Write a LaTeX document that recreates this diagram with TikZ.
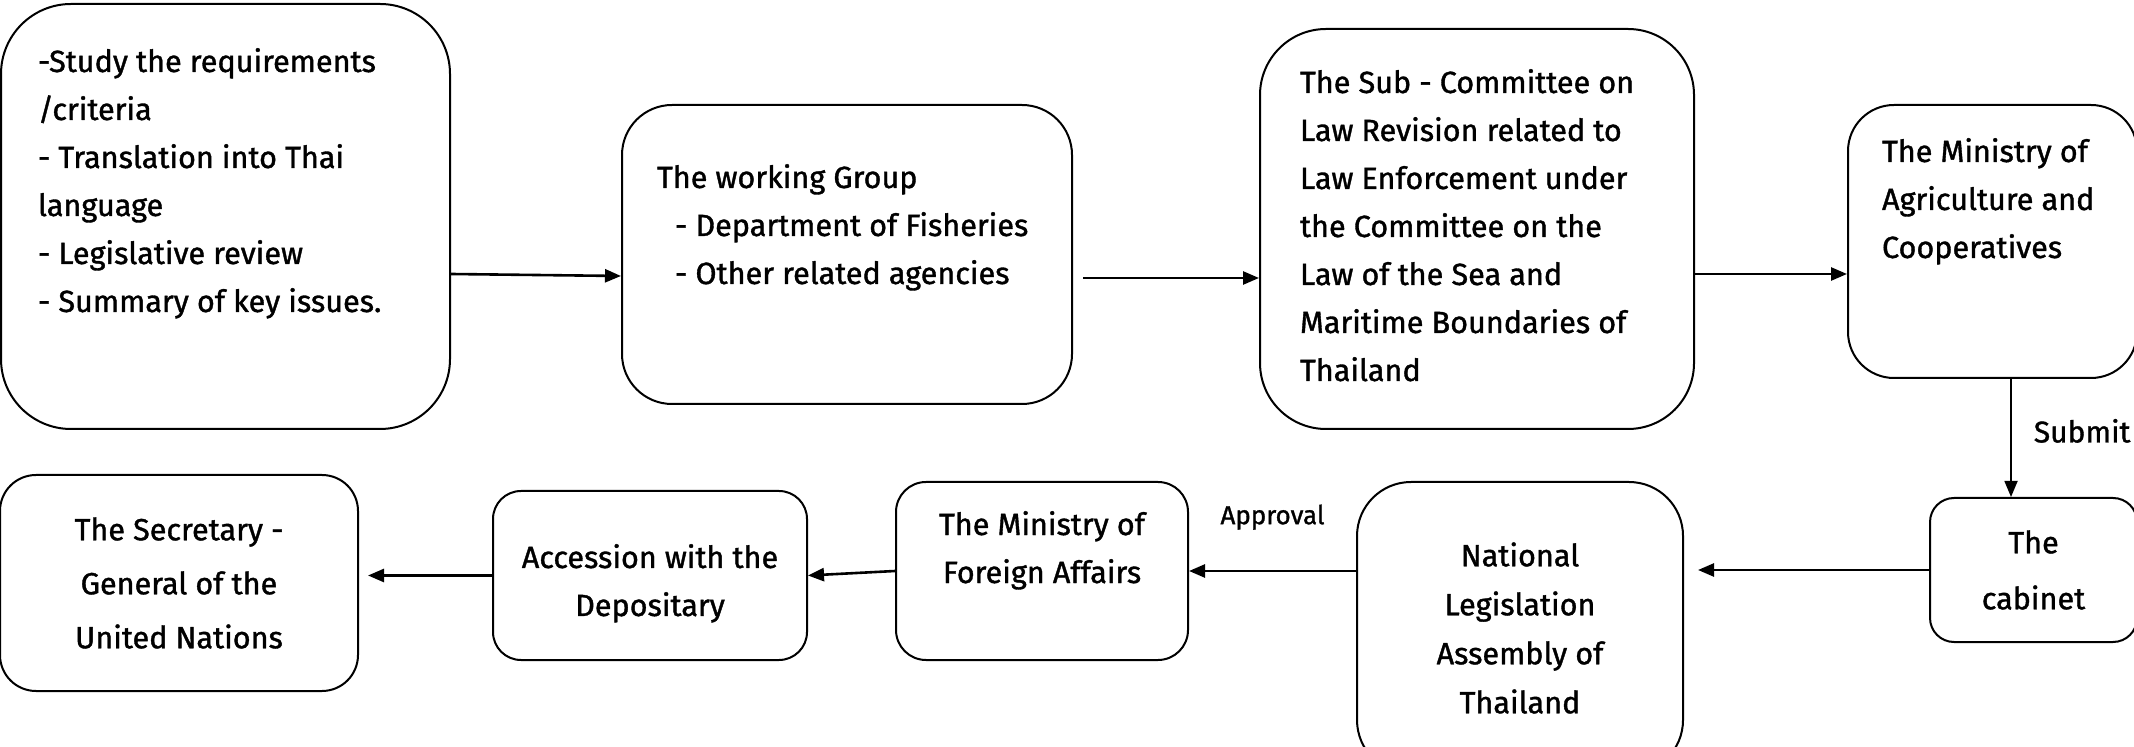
\documentclass[tikz,border=0pt]{standalone}
\usepackage{fontspec}
\setmainfont{Fira Sans}[FakeBold=1.2]
\usetikzlibrary{arrows.meta,positioning}

\tikzset{
  stage/.style={draw, line width=1pt, inner sep=0pt, font=\fontsize{15.3}{24}\selectfont},
  flow/.style={-{Triangle[length=8pt,width=6.5pt]}, line width=1.3pt},
  note/.style={inner sep=0pt, font=\fontsize{15}{24}\selectfont}
}
% width, height, first baseline, alignment, lines
\newcommand{\stagetext}[5]{\parbox[c][#2][t]{#1}{#4\rule{0pt}{#3}#5}}

\begin{document}
\begin{tikzpicture}[x=0.5pt, y=-0.5pt]
        \useasboundingbox (0,0) rectangle (2134,747);
        \clip (0,0) rectangle (2134,747);
        %% Top row
        \node[stage, rounded corners=35pt] (study) at (225.5,216.5)
            {\stagetext{224.5pt}{212.5pt}{34pt}{\raggedright\leftskip=18.5pt\relax}{-Study the requirements\\/criteria\\- Translation into Thai\\language\\- Legislative review\\- Summary of key issues.}};
        \node[stage, rounded corners=25pt] (group) at (847,254.5)
            {\stagetext{225pt}{149.5pt}{41.5pt}{\raggedright\leftskip=17.5pt\relax}{The working Group\\\hspace*{9pt}- Department of Fisheries\\\hspace*{9pt}- Other related agencies}};
        \node[stage, rounded corners=33pt] (subcom) at (1477,229)
            {\stagetext{217pt}{200pt}{32pt}{\raggedright\leftskip=20pt\relax}{The Sub - Committee on\\Law Revision related to\\Law Enforcement under\\the Committee on the\\Law of the Sea and\\Maritime Boundaries of\\Thailand}};
        \node[stage, rounded corners=23pt] (moac) at (1992.5,241.5)
            {\stagetext{144.5pt}{136.5pt}{28.5pt}{\raggedright\leftskip=17pt\relax}{The Ministry of\\Agriculture and\\Cooperatives}};
        %% Bottom row
        \node[stage, rounded corners=12pt, minimum width=103.5pt, minimum height=72pt, align=center,
              font=\fontsize{15.3}{28}\selectfont] (cabinet) at (2033.5,570) {The\\cabinet};
        \node[stage, rounded corners=27pt, minimum width=163pt, minimum height=146pt, align=center,
              font=\fontsize{15.3}{24.5}\selectfont] (nla) at (1520,628) {National\\Legislation\\Assembly of\\Thailand};
        \node[stage, rounded corners=15pt] (mfa) at (1042,571)
            {\stagetext{146pt}{89pt}{26.5pt}{\centering}{The Ministry of\\Foreign Affairs}};
        \node[stage, rounded corners=14pt] (acc) at (650,575.5)
            {\stagetext{157pt}{84.5pt}{38.5pt}{\centering}{Accession with the\\Depositary}};
        \node[stage, rounded corners=18pt, minimum width=179pt, minimum height=108pt, align=center,
              font=\fontsize{15.3}{27}\selectfont] (sg) at (179,583) {The Secretary -\\General of the\\United Nations};
        %% Arrows
        \draw[flow] ([yshift=-28.75pt]study.east) -- ([yshift=-10.75pt]group.west);
        \draw[flow] ([xshift=5pt,yshift=-11.75pt]group.east) -- ([yshift=-24.5pt]subcom.west);
        \draw[flow] ([yshift=-22.5pt]subcom.east) -- ([yshift=-16.25pt]moac.west);
        \draw[flow, line width=0.8pt] ([xshift=9.25pt]moac.south) -- ([xshift=9.25pt]moac.south |- cabinet.north)
            node[note, pos=0.44, right=11pt] (submit) {Submit};
        \draw[flow, shorten >=7pt] (cabinet.west) -- (cabinet.west -| nla.east);
        \draw[flow] (nla.west |- mfa.east) -- (mfa.east)
            node[note, midway, above=20pt, font=\fontsize{13}{15}\selectfont] (approval) {Approval};
        \draw[flow] (mfa.west) -- (acc.east);
        \draw[flow, shorten >=4.5pt] (acc.west) -- (acc.west -| sg.east);
\end{tikzpicture}
\end{document}
